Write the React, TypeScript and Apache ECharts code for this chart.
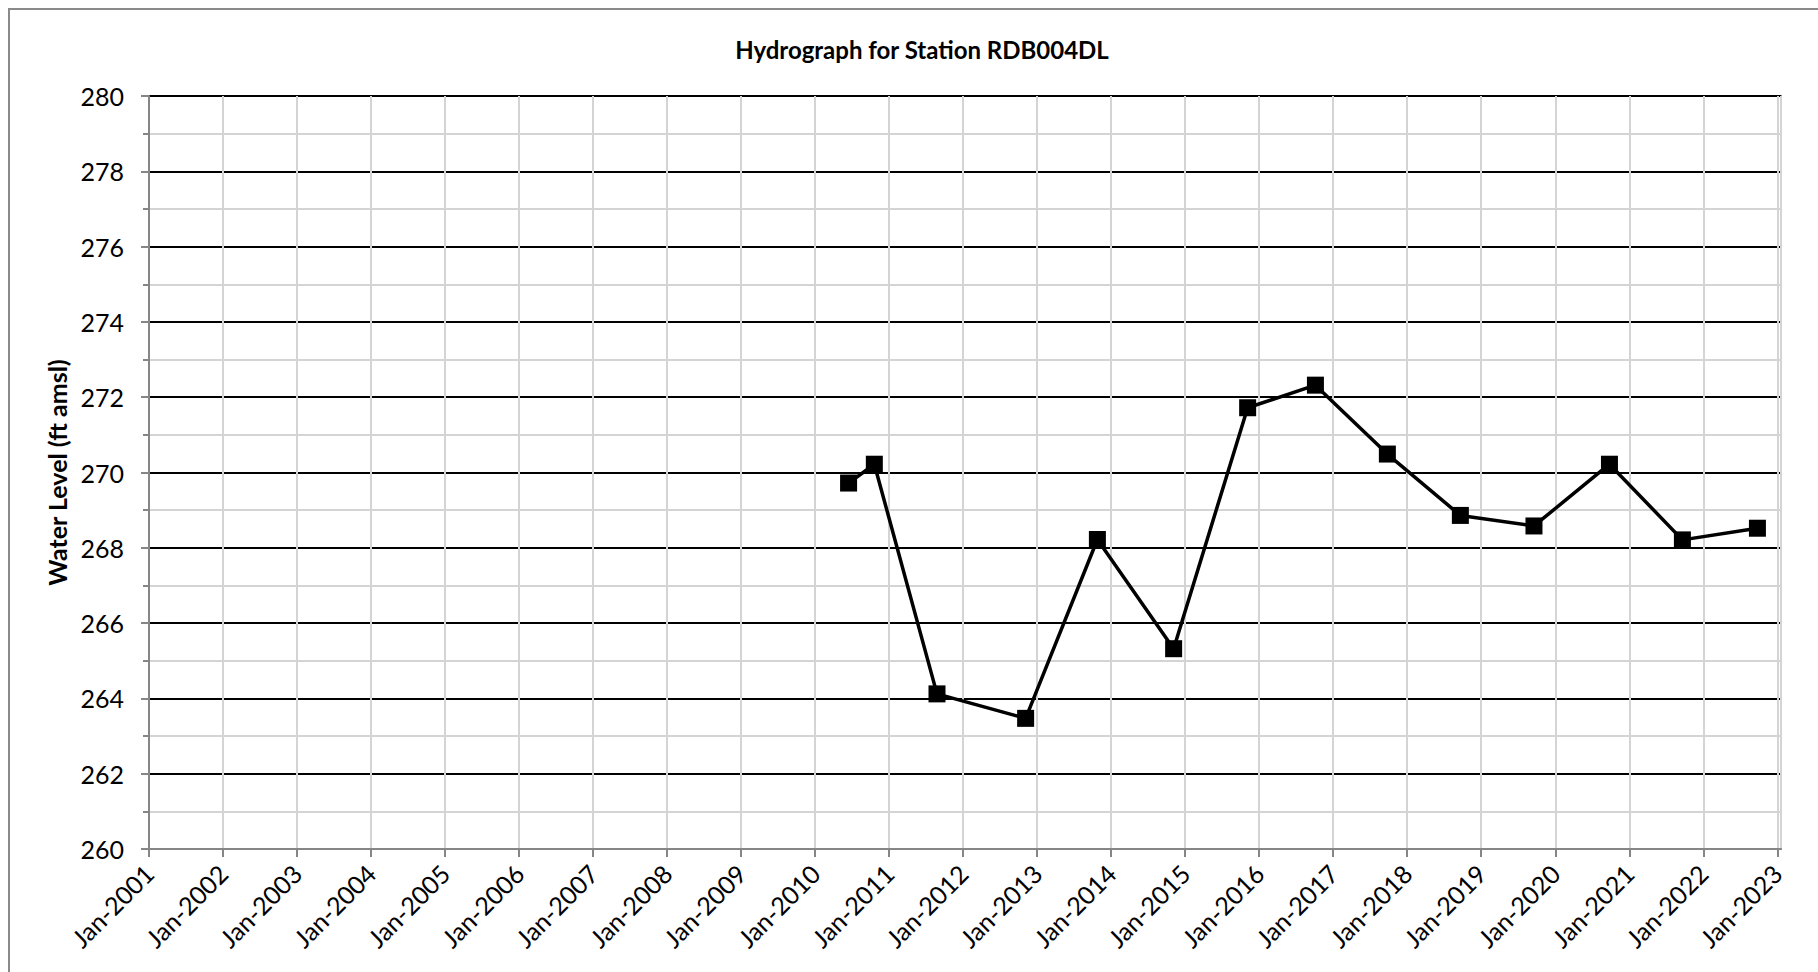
import React, { useEffect, useRef } from "react";
import * as echarts from "echarts";

const chartTitle = "Hydrograph for Station RDB004DL";
const yAxisName = "Water Level (ft amsl)";
const sampleDates = [
  "2010-06-15", "2010-10-20", "2011-08-25", "2012-11-05", "2013-10-25",
  "2014-11-05", "2015-11-05", "2016-10-05", "2017-09-25", "2018-09-20",
  "2019-09-18", "2020-09-25", "2021-09-20", "2022-09-25",
];
const waterLevels = [
  269.72, 270.22, 264.12, 263.47, 268.22,
  265.32, 271.72, 272.32, 270.49, 268.86,
  268.58, 270.22, 268.21, 268.52,
];
const xMinYear = 2001;
const xMaxYear = 2023.05;
const yMin = 260;
const yMax = 280;

function toDecimalYear(s: string): number {
  const d = new Date(s + "T00:00:00Z");
  const y = d.getUTCFullYear();
  const start = Date.UTC(y, 0, 1);
  const end = Date.UTC(y + 1, 0, 1);
  return y + (d.getTime() - start) / (end - start);
}

const FONT = "Lato, 'Open Sans', sans-serif";

export default function App() {
  const ref = useRef<HTMLDivElement>(null);
  useEffect(() => {
    document.body.style.margin = "0";
    if (!ref.current) return;
    const chart = echarts.init(ref.current, undefined, { renderer: "svg" });
    const data = sampleDates.map((d, i) => [toDecimalYear(d), waterLevels[i]]);
    chart.setOption({
      animation: false,
      backgroundColor: "#fff",
      textStyle: { fontFamily: FONT },
      graphic: [
        {
          type: "rect",
          shape: { x: 9, y: 9, width: 1840, height: 1000 },
          style: { fill: "none", stroke: "#8a8a8a", lineWidth: 2 },
          silent: true,
        },
        {
          type: "text",
          x: 922,
          y: 49,
          style: {
            text: chartTitle,
            fontFamily: FONT,
            fontWeight: "bold",
            fontSize: 24,
            fill: "#000",
            textAlign: "center",
            textVerticalAlign: "middle",
          },
        },
      ],
      grid: {
        left: 149,
        top: 96,
        right: 37,
        bottom: 123,
        show: true,
        borderColor: "#868686",
        borderWidth: 2,
        backgroundColor: "transparent",
      },
      xAxis: {
        type: "value",
        min: xMinYear,
        max: xMaxYear,
        interval: 1,
        axisLine: { show: true, lineStyle: { color: "#868686", width: 2 } },
        axisTick: { show: true, length: 8, lineStyle: { color: "#868686", width: 2 } },
        axisLabel: {
          rotate: 45,
          fontSize: 25,
          color: "#000",
          margin: 20,
          fontFamily: FONT,
          showMaxLabel: false,
          formatter: (v: number) => (Math.abs(v - Math.round(v)) < 1e-6 ? `Jan-${Math.round(v)}` : ""),
        },
        splitLine: { show: true, lineStyle: { color: "#d4d4d4", width: 2 } },
      },
      yAxis: {
        type: "value",
        min: yMin,
        max: yMax,
        interval: 2,
        name: yAxisName,
        nameLocation: "middle",
        nameGap: 76,
        nameTextStyle: { fontSize: 25, fontWeight: "bold", color: "#000", fontFamily: FONT },
        axisLine: { show: true, lineStyle: { color: "#868686", width: 2 } },
        axisTick: { show: true, length: 8, lineStyle: { color: "#868686", width: 2 } },
        minorTick: { show: true, splitNumber: 2, length: 6, lineStyle: { color: "#868686", width: 2 } },
        axisLabel: { fontSize: 25, color: "#000", margin: 25, fontFamily: FONT },
        splitLine: { show: true, lineStyle: { color: "#000", width: 2 } },
        minorSplitLine: { show: true, lineStyle: { color: "#d4d4d4", width: 2 } },
      },
      series: [
        {
          type: "line",
          data,
          symbol: "rect",
          symbolSize: 17,
          itemStyle: { color: "#000" },
          lineStyle: { color: "#000", width: 3.5 },
          z: 5,
        },
      ],
    });
    return () => chart.dispose();
  }, []);
  return <div ref={ref} style={{ width: 1818, height: 972 }} />;
}
